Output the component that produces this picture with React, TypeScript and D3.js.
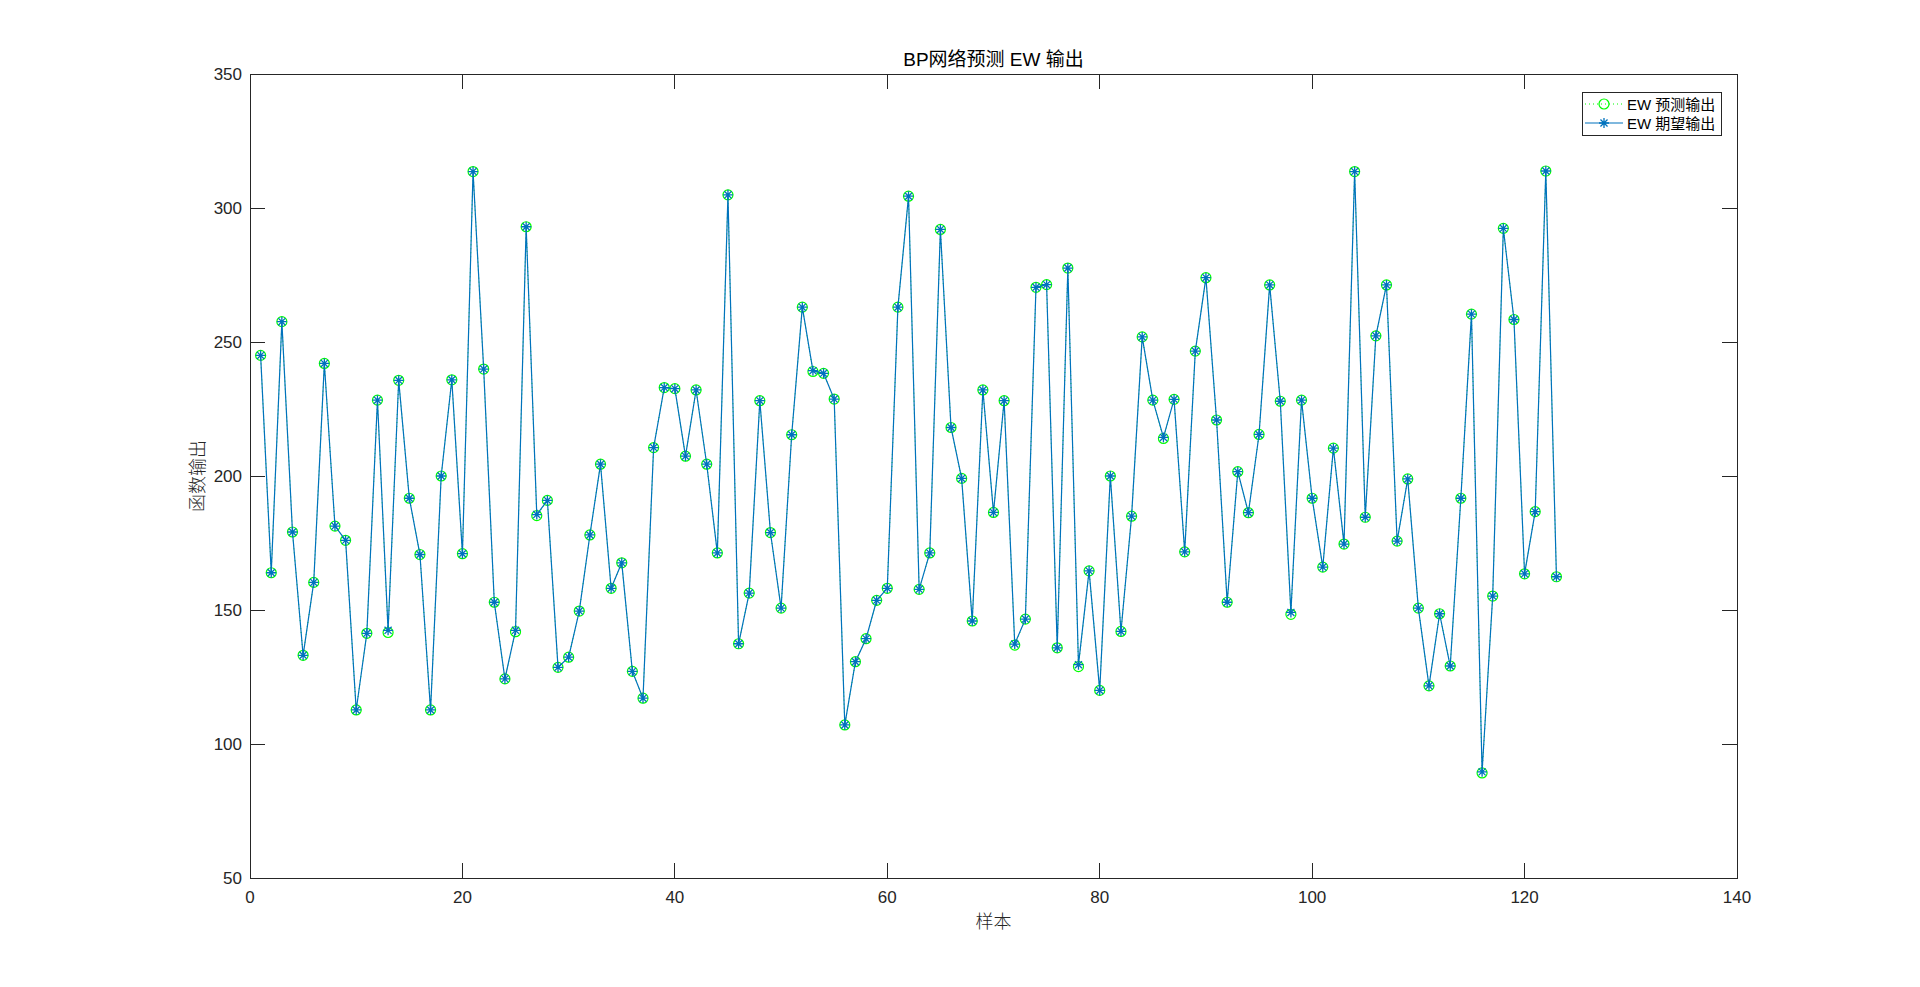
import React, { useRef, useEffect } from 'react';
import * as d3 from 'd3';

// sample index 1..123
const samples: number[] = d3.range(1, 124);

// EW 期望输出 (expected)
const expectedValues: number[] = [
  245.0, 163.9, 257.6, 179.1, 133.1, 160.3, 242.0, 181.3, 176.0, 112.7,
  141.3, 228.3, 142.4, 235.7, 191.7, 170.7, 112.7, 200.0, 235.9, 171.0,
  313.6, 239.9, 152.9, 124.3, 142.4, 293.0, 185.6, 190.9, 128.6, 132.4,
  149.6, 178.0, 204.4, 158.1, 167.6, 127.1, 117.1, 210.6, 233.0, 232.6,
  207.4, 232.1, 204.4, 171.3, 304.9, 137.4, 156.3, 228.1, 178.9, 150.7,
  215.4, 263.0, 239.3, 238.3, 228.7, 107.1, 130.7, 139.3, 153.6, 158.1,
  263.0, 304.4, 157.7, 171.3, 292.0, 218.1, 199.1, 145.9, 232.1, 186.4,
  228.1, 137.3, 146.6, 270.4, 271.4, 135.9, 277.6, 129.6, 164.6, 120.0,
  200.0, 142.0, 185.0, 251.9, 228.3, 214.4, 228.6, 171.7, 246.6, 274.0,
  220.9, 152.9, 201.6, 186.3, 215.5, 271.3, 227.9, 149.1, 228.3, 191.7,
  166.0, 210.4, 174.6, 313.6, 184.6, 252.3, 271.3, 175.7, 198.9, 150.7,
  121.7, 148.6, 129.1, 191.7, 260.4, 89.6, 155.2, 292.4, 258.4, 163.5,
  186.7, 313.8, 162.4,
];

// EW 预测输出 (predicted)
const predictedValues: number[] = [
  245.0, 163.9, 257.6, 179.1, 133.1, 160.3, 242.0, 181.3, 176.0, 112.7,
  141.3, 228.3, 141.6, 235.7, 191.7, 170.7, 112.7, 200.0, 235.9, 171.0,
  313.6, 239.9, 152.9, 124.3, 141.9, 293.0, 185.2, 190.9, 128.6, 132.4,
  149.6, 178.0, 204.4, 158.1, 167.6, 127.1, 117.1, 210.6, 233.0, 232.6,
  207.4, 232.1, 204.4, 171.3, 304.9, 137.4, 156.3, 228.1, 178.9, 150.7,
  215.4, 263.0, 239.0, 238.3, 228.7, 107.1, 130.7, 139.3, 153.6, 158.1,
  263.0, 304.4, 157.7, 171.3, 292.0, 218.1, 199.1, 145.9, 232.1, 186.4,
  228.1, 136.9, 146.6, 270.4, 271.4, 135.9, 277.6, 128.9, 164.6, 120.0,
  200.0, 142.0, 185.0, 251.9, 228.3, 214.0, 228.6, 171.7, 246.6, 274.0,
  220.9, 152.9, 201.6, 186.3, 215.5, 271.3, 227.9, 148.4, 228.3, 191.7,
  166.0, 210.4, 174.6, 313.6, 184.6, 252.3, 271.3, 175.7, 198.9, 150.7,
  121.7, 148.6, 129.1, 191.7, 260.4, 89.2, 155.2, 292.4, 258.4, 163.5,
  186.7, 313.8, 162.4,
];

const xTicks: number[] = [0, 20, 40, 60, 80, 100, 120, 140];
const yTicks: number[] = [50, 100, 150, 200, 250, 300, 350];

const titleText = 'BP网络预测 EW 输出';
const xLabelText = '样本';
const yLabelText = '函数输出';
const legendLabels: string[] = ['EW 预测输出', 'EW 期望输出'];

export default function App() {
  const svgRef = useRef<SVGSVGElement | null>(null);

  useEffect(() => {
    if (!svgRef.current) return;
    const svg = d3.select(svgRef.current);
    svg.selectAll('*').remove();

    const width = 1920;
    const height = 987;
    // MATLAB default axes position
    const margin = { top: 74, right: 183, bottom: 109, left: 250 };
    const axisColor = '#262626';
    const blue = '#0072BD';
    const green = '#00FF00';
    const sans = '"Liberation Sans", Arial, "Noto Sans CJK SC", sans-serif';
    const cjk = '"Noto Sans CJK SC", "Liberation Sans", sans-serif';

    svg.attr('viewBox', `0 0 ${width} ${height}`).attr('width', width).attr('height', height);
    svg.append('rect').attr('width', width).attr('height', height).attr('fill', '#ffffff');

    const x = d3.scaleLinear().domain([0, 140]).range([margin.left, width - margin.right]);
    const y = d3.scaleLinear().domain([50, 350]).range([height - margin.bottom, margin.top]);

    const x0 = margin.left, x1 = width - margin.right;
    const y0 = height - margin.bottom, y1 = margin.top;
    const tickLen = 15;

    // predicted series: green dotted line + circles
    const line = d3.line<number>().x((_, i) => x(samples[i])).y(d => y(d));
    svg.append('path')
      .datum(predictedValues)
      .attr('d', line)
      .attr('fill', 'none')
      .attr('stroke', green)
      .attr('stroke-width', 1)
      .attr('stroke-dasharray', '1,3');

    svg.append('g')
      .selectAll('circle')
      .data(predictedValues)
      .enter()
      .append('circle')
      .attr('cx', (_, i) => x(samples[i]))
      .attr('cy', d => y(d))
      .attr('r', 5)
      .attr('fill', 'none')
      .attr('stroke', green)
      .attr('stroke-width', 1.2);

    // expected series: blue solid line + asterisks
    svg.append('path')
      .datum(expectedValues)
      .attr('d', line)
      .attr('fill', 'none')
      .attr('stroke', blue)
      .attr('stroke-width', 1.2);

    const star = (cx: number, cy: number, s: number) => {
      const d = s * 0.7071;
      return `M${cx - s},${cy}L${cx + s},${cy}M${cx},${cy - s}L${cx},${cy + s}` +
        `M${cx - d},${cy - d}L${cx + d},${cy + d}M${cx - d},${cy + d}L${cx + d},${cy - d}`;
    };

    svg.append('g')
      .selectAll('path')
      .data(expectedValues)
      .enter()
      .append('path')
      .attr('d', (d, i) => star(x(samples[i]), y(d), 5))
      .attr('fill', 'none')
      .attr('stroke', blue)
      .attr('stroke-width', 1.3);

    // box lines
    svg.append('rect')
      .attr('x', x0).attr('y', y1).attr('width', x1 - x0).attr('height', y0 - y1)
      .attr('fill', 'none').attr('stroke', axisColor).attr('stroke-width', 1)
      .attr('shape-rendering', 'crispEdges');

    // x ticks (bottom & top, inward)
    const xt = svg.append('g').attr('shape-rendering', 'crispEdges');
    xTicks.forEach(t => {
      xt.append('line').attr('x1', x(t)).attr('x2', x(t)).attr('y1', y0).attr('y2', y0 - tickLen)
        .attr('stroke', axisColor);
      xt.append('line').attr('x1', x(t)).attr('x2', x(t)).attr('y1', y1).attr('y2', y1 + tickLen)
        .attr('stroke', axisColor);
      svg.append('text')
        .attr('x', x(t)).attr('y', y0 + 25)
        .attr('text-anchor', 'middle')
        .attr('font-family', sans).attr('font-size', 17).attr('fill', axisColor)
        .text(String(t));
    });

    // y ticks (left & right, inward)
    yTicks.forEach(t => {
      xt.append('line').attr('x1', x0).attr('x2', x0 + tickLen).attr('y1', y(t)).attr('y2', y(t))
        .attr('stroke', axisColor);
      xt.append('line').attr('x1', x1).attr('x2', x1 - tickLen).attr('y1', y(t)).attr('y2', y(t))
        .attr('stroke', axisColor);
      svg.append('text')
        .attr('x', x0 - 8).attr('y', y(t) + 6)
        .attr('text-anchor', 'end')
        .attr('font-family', sans).attr('font-size', 17).attr('fill', axisColor)
        .text(String(t));
    });

    // title
    svg.append('text')
      .attr('x', (x0 + x1) / 2).attr('y', 66)
      .attr('text-anchor', 'middle')
      .attr('font-family', sans).attr('font-size', 19).attr('fill', '#000000')
      .text(titleText);

    // axis labels
    svg.append('text')
      .attr('x', (x0 + x1) / 2).attr('y', 928)
      .attr('text-anchor', 'middle')
      .attr('font-family', cjk).attr('font-size', 18).attr('font-weight', 300)
      .attr('fill', axisColor)
      .text(xLabelText);

    svg.append('text')
      .attr('transform', `translate(204, ${(y0 + y1) / 2}) rotate(-90)`)
      .attr('text-anchor', 'middle')
      .attr('font-family', cjk).attr('font-size', 18).attr('font-weight', 300)
      .attr('fill', axisColor)
      .text(yLabelText);

    // legend
    const lg = svg.append('g');
    const lx = 1582, ly = 92, lw = 139, lh = 43;
    lg.append('rect')
      .attr('x', lx).attr('y', ly).attr('width', lw).attr('height', lh)
      .attr('fill', '#ffffff').attr('stroke', axisColor).attr('stroke-width', 1)
      .attr('shape-rendering', 'crispEdges');

    const rows = [ly + 12, ly + 31];
    // row 1: predicted
    lg.append('line')
      .attr('x1', lx + 3).attr('x2', lx + 41).attr('y1', rows[0]).attr('y2', rows[0])
      .attr('stroke', green).attr('stroke-dasharray', '1,3');
    lg.append('circle')
      .attr('cx', lx + 22).attr('cy', rows[0]).attr('r', 5)
      .attr('fill', 'none').attr('stroke', green).attr('stroke-width', 1.2);
    // row 2: expected
    lg.append('line')
      .attr('x1', lx + 3).attr('x2', lx + 41).attr('y1', rows[1]).attr('y2', rows[1])
      .attr('stroke', blue).attr('stroke-width', 1.2);
    lg.append('path')
      .attr('d', star(lx + 22, rows[1], 5))
      .attr('fill', 'none').attr('stroke', blue).attr('stroke-width', 1.3);

    legendLabels.forEach((lab, i) => {
      lg.append('text')
        .attr('x', lx + 45).attr('y', rows[i] + 5.5)
        .attr('font-family', sans).attr('font-size', 15).attr('fill', '#000000')
        .text(lab);
    });
  }, []);

  return (
    <div style={{ position: 'absolute', left: 0, top: 0, width: 1920, height: 987 }}>
      <svg ref={svgRef} style={{ display: 'block' }} />
    </div>
  );
}
